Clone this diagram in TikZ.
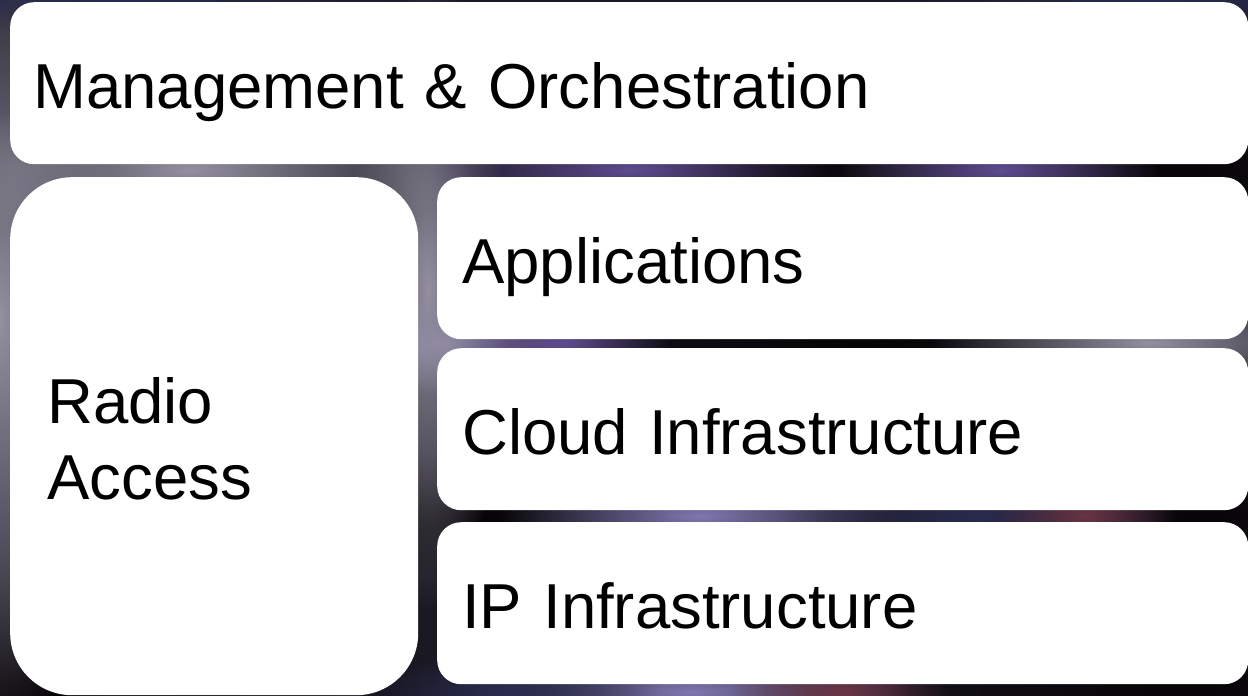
\documentclass[tikz,border=0pt]{standalone}
\usepackage{fontspec}
\setmainfont{Liberation Sans}
\usetikzlibrary{fadings}

% soft round glow used for the starfield haze (fades out at half the radius)
\tikzfading[name=softglow, inner color=transparent!0, outer color=transparent!100]

\definecolor{spacebase}{HTML}{1A1822}
\definecolor{hazegrey}{HTML}{9490A0}
\definecolor{hazelilac}{HTML}{8078B0}
\definecolor{hazeviolet}{HTML}{5E4C90}
\definecolor{hazemaroon}{HTML}{6A3444}
\definecolor{hazenavy}{HTML}{2A2C50}
\definecolor{hazeblack}{HTML}{060406}

\begin{document}
\begin{tikzpicture}[x=1pt, y=-1pt,
  glow/.style={fill=#1, path fading=softglow},
  layer/.style={fill=white, draw=none, rounded corners=24pt, anchor=north west,
    align=left, text=black, inner ysep=0pt,
    font=\fontsize{63.5}{76}\selectfont},
  oneline/.style={text height=50pt, text depth=0pt},
]
\useasboundingbox (0,0) rectangle (1248,696);

% dark space backdrop with soft coloured haze
\fill[spacebase] (0,0) rectangle (1248,696);
\fill[glow=hazeblack] (860,345) ellipse (400 and 80);
\fill[glow=hazeblack] (760,170) ellipse (240 and 60);
\fill[glow=hazeblack] (1180,170) ellipse (280 and 80);
\fill[glow=hazeblack] (480,516) ellipse (280 and 60);
\fill[glow=hazeblack] (1180,690) ellipse (400 and 80);
\fill[glow=hazeblack] (1200,516) ellipse (240 and 60);
\fill[glow=hazeblack] (40,690) ellipse (400 and 120);
\fill[glow=hazegrey] (0,320) ellipse (120 and 420);
\fill[glow=hazegrey] (190,170) ellipse (280 and 80);
\fill[glow=hazegrey] (428,290) ellipse (80 and 320);
\fill[glow=hazegrey] (1150,343) ellipse (220 and 50);
\fill[glow=hazegrey!80!hazelilac] (440,343) ellipse (160 and 50);
\fill[glow=hazeviolet] (630,170) ellipse (200 and 50);
\fill[glow=hazeviolet] (1000,170) ellipse (160 and 50);
\fill[glow=hazeviolet] (560,343) ellipse (110 and 40);
\fill[glow=hazelilac] (700,516) ellipse (200 and 50);
\fill[glow=hazenavy] (980,516) ellipse (200 and 40);
\fill[glow=hazemaroon] (1085,516) ellipse (90 and 40);
\fill[glow=hazelilac] (690,692) ellipse (220 and 50);
\fill[glow=hazenavy] (510,692) ellipse (150 and 40);
\fill[glow=hazemaroon] (840,692) ellipse (110 and 40);
\fill[glow=hazenavy] (1150,0) ellipse (300 and 30);
\fill[glow=hazenavy] (120,0) ellipse (380 and 30);

% layered architecture blocks
\node[layer, oneline, inner xsep=23pt, text width=1192pt, minimum height=162pt]
  (mgmt) at (10,2) {Management \& Orchestration};
\node[layer, rounded corners=62pt, inner xsep=37pt, text width=334pt,
  minimum height=518pt, text height=46pt, text depth=72pt]
  (radio) at (10,177) {Radio\\Access};
\node[layer, oneline, inner xsep=25pt, text width=761pt, minimum height=162pt]
  (apps) at (437,177) {Applications};
\node[layer, oneline, inner xsep=25pt, text width=761pt, minimum height=162pt]
  (cloud) at (437,348) {Cloud Infrastructure};
\node[layer, oneline, inner xsep=25pt, text width=761pt, minimum height=162pt]
  (ip) at (437,522) {IP Infrastructure};
\end{tikzpicture}
\end{document}
